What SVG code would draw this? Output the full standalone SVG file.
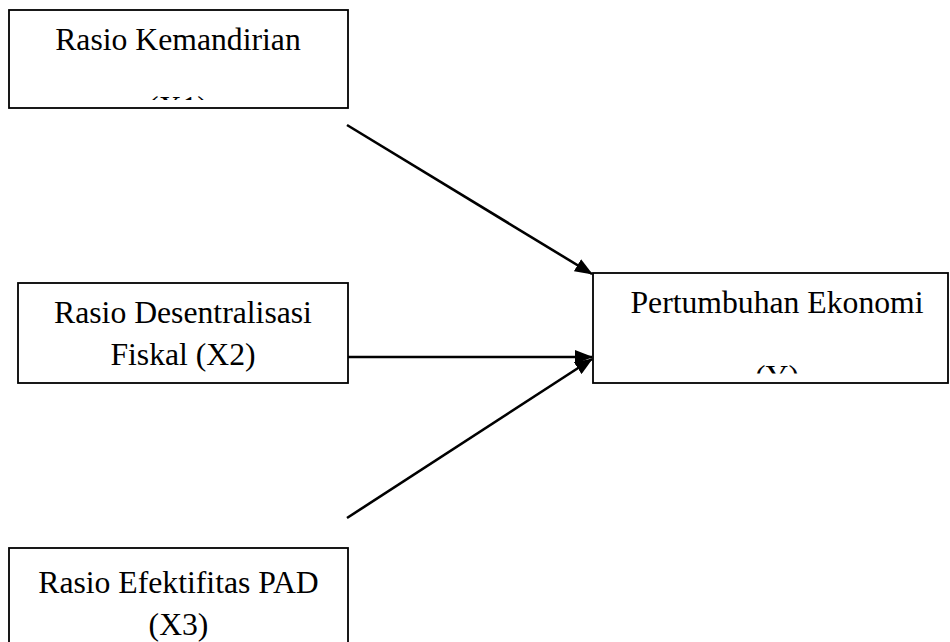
<svg xmlns="http://www.w3.org/2000/svg" width="950" height="642" viewBox="0 0 950 642">
  <style>
    .box { fill: #ffffff; stroke: #000000; stroke-width: 1.8; }
    .lbl { font-family: "Liberation Serif", "Times New Roman", serif; font-size: 31.7px; fill: #000000; text-anchor: middle; }
    .conn { stroke: #000000; stroke-width: 2.6; fill: none; marker-end: url(#arrow); }
  </style>
  <defs>
    <marker id="arrow" markerUnits="userSpaceOnUse" markerWidth="18" markerHeight="14" refX="17" refY="7" orient="auto">
      <path d="M0,0 L18,7 L0,14 Z" fill="#000000"/>
    </marker>
    <clipPath id="clipX1"><rect x="9" y="10" width="339" height="90"/></clipPath>
    <clipPath id="clipY"><rect x="593" y="273" width="356" height="100.5"/></clipPath>
  </defs>
  <rect width="950" height="642" fill="#ffffff"/>

  <g id="node-x1">
    <rect class="box" x="9" y="10" width="339" height="98"/>
    <text class="lbl" x="178" y="50">Rasio Kemandirian</text>
    <text class="lbl" x="178" y="118" clip-path="url(#clipX1)">(X1)</text>
  </g>

  <g id="node-x2">
    <rect class="box" x="18" y="283" width="330" height="100"/>
    <text class="lbl" x="183" y="323">Rasio Desentralisasi</text>
    <text class="lbl" x="183" y="365">Fiskal (X2)</text>
  </g>

  <g id="node-x3">
    <rect class="box" x="9" y="548" width="339" height="100"/>
    <text class="lbl" x="178.5" y="593">Rasio Efektifitas PAD</text>
    <text class="lbl" x="178.5" y="635">(X3)</text>
  </g>

  <g id="node-y">
    <rect class="box" x="593" y="273" width="355" height="110"/>
    <text class="lbl" x="777" y="313">Pertumbuhan Ekonomi</text>
    <text class="lbl" x="777" y="387" clip-path="url(#clipY)">(Y)</text>
  </g>

  <g id="connectors">
    <line class="conn" x1="347" y1="125" x2="592" y2="274"/>
    <line class="conn" x1="348" y1="357" x2="592" y2="357"/>
    <line class="conn" x1="347" y1="518" x2="592" y2="359"/>
  </g>
</svg>
